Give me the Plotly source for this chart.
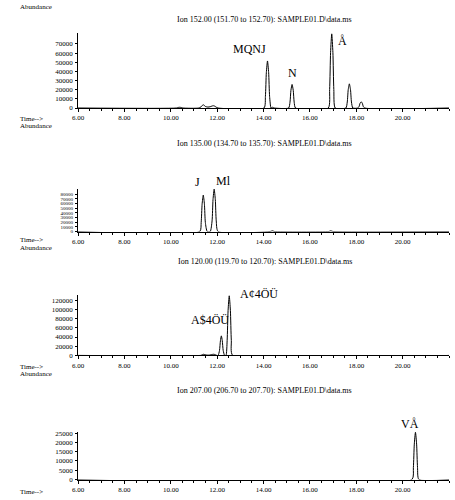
import plotly.graph_objects as go

# ---------------- data ----------------
x_ticks = [6, 8, 10, 12, 14, 16, 18, 20]
x_tick_labels = ["6.00", "8.00", "10.00", "12.00", "14.00", "16.00", "18.00", "20.00"]

titles = [
    "Ion 152.00 (151.70 to 152.70): SAMPLE01.D\\data.ms",
    "Ion 135.00 (134.70 to 135.70): SAMPLE01.D\\data.ms",
    "Ion 120.00 (119.70 to 120.70): SAMPLE01.D\\data.ms",
    "Ion 207.00 (206.70 to 207.70): SAMPLE01.D\\data.ms",
]

p1_time = [6.00, 10.24, 10.30, 10.38, 10.46, 10.52,
           11.22, 11.30, 11.36, 11.40, 11.44, 11.50, 11.60, 11.70, 11.78, 11.83, 11.88, 11.96, 12.04,
           14.02, 14.08, 14.12, 14.17, 14.22, 14.26, 14.32, 14.35, 14.38, 14.42, 14.47,
           15.08, 15.14, 15.18, 15.23, 15.28, 15.32, 15.38,
           16.79, 16.85, 16.89, 16.94, 16.99, 17.03, 17.09,
           17.55, 17.61, 17.65, 17.70, 17.75, 17.79, 17.85,
           18.06, 18.12, 18.16, 18.21, 18.26, 18.30, 18.36, 22.00]
p1_abund = [0, 0, 500, 800, 500, 0,
            0, 1200, 2900, 3500, 2900, 1600, 1000, 1400, 2200, 2500, 2200, 900, 0,
            0, 12800, 38500, 51400, 38500, 12800, 0, 500, 800, 500, 0,
            0, 6400, 19300, 25700, 19300, 6400, 0,
            0, 20200, 60700, 81000, 60700, 20200, 0,
            0, 6600, 19800, 26400, 19800, 6600, 0,
            0, 1700, 5100, 6800, 5100, 1700, 0, 0]

p2_time = [6.00, 11.25, 11.31, 11.35, 11.40, 11.45, 11.49, 11.57,
           11.70, 11.78, 11.82, 11.87, 11.92, 11.96, 12.04,
           14.28, 14.34, 14.38, 14.42, 14.48,
           16.80, 16.86, 16.90, 16.94, 17.00, 22.00]
p2_abund = [0, 0, 19500, 58500, 78000, 58500, 19500, 0,
            0, 22700, 68100, 90800, 68100, 22700, 0,
            0, 900, 1500, 900, 0,
            0, 900, 1500, 900, 0, 0]

p3_time = [6.00, 11.28, 11.36, 11.42, 11.48, 11.56, 11.66, 11.72, 11.80, 11.86, 11.92, 11.99,
           12.04, 12.10, 12.14, 12.18, 12.22, 12.26, 12.32,
           12.38, 12.43, 12.47, 12.52, 12.57, 12.61, 12.67, 22.00]
p3_abund = [0, 0, 1400, 2500, 1400, 600, 700, 1400, 2200, 2500, 1400, 0,
            0, 10600, 31900, 42500, 31900, 10600, 0,
            0, 32500, 97400, 129800, 97400, 32500, 0, 0]

p4_time = [6.00, 20.40, 20.46, 20.50, 20.55, 20.60, 20.64, 20.70, 22.00]
p4_abund = [0, 0, 6400, 19100, 25500, 19100, 6400, 0, 0]

y_ticks = [
    [0, 10000, 20000, 30000, 40000, 50000, 60000, 70000],
    [0, 10000, 20000, 30000, 40000, 50000, 60000, 70000, 80000],
    [0, 20000, 40000, 60000, 80000, 100000, 120000],
    [0, 5000, 10000, 15000, 20000, 25000],
]

peak_labels = [
    [("MQNJ", 14.17, 51400), ("N", 15.23, 25700), ("Å", 16.94, 81000)],
    [("J", 11.40, 78000), ("Ml", 11.87, 90800)],
    [("A$4ÖÜ", 12.18, 42500), ("A¢4ÖÜ", 12.52, 129800)],
    [("VÅ", 20.55, 25500)],
]

# ---------------- layout (pixel geometry) ----------------
W, H = 455, 500
FONT = "Liberation Serif"
x_left, x_right = 73, 449
panels_px = [(31.5, 107.3), (189, 232.3), (296.7, 357.7), (435, 483.3)]  # (top, bottom)
title_y = [18, 143, 263, 393]
time_y = [118, 241, 369, 496]
ytick_size = [7, 5, 7, 7]

series = [(p1_time, p1_abund), (p2_time, p2_abund), (p3_time, p3_abund), (p4_time, p4_abund)]
label_offsets = [
    [(-18, -12), (0, -11), (11, 7)],
    [(-6, -13), (9, -8)],
    [(-11, -16), (30, -2)],
    [(-5, -8)],
]

fig = go.Figure()
annotations = []

def py(y):
    return 1 - y / H

for i, (t, a) in enumerate(series):
    xa = "x" if i == 0 else f"x{i+1}"
    ya = "y" if i == 0 else f"y{i+1}"
    fig.add_trace(go.Scatter(x=t, y=a, mode="lines",
                             line=dict(color="black", width=1, shape="spline", smoothing=0.6),
                             xaxis=xa, yaxis=ya, showlegend=False, hoverinfo="skip"))
    top, bot = panels_px[i]
    ymax = max(a)
    xkey = "xaxis" if i == 0 else f"xaxis{i+1}"
    ykey = "yaxis" if i == 0 else f"yaxis{i+1}"
    fig.update_layout(**{
        xkey: dict(domain=[x_left / W, x_right / W], range=[6, 22], anchor=ya,
                   tickvals=x_ticks, ticktext=x_tick_labels, ticks="outside", ticklen=3,
                   tickcolor="black", tickwidth=1,
                   minor=dict(dtick=0.5, tick0=6, ticks="outside", ticklen=2, tickcolor="black"),
                   showline=True, linecolor="black", linewidth=1, showgrid=False, zeroline=False,
                   tickfont=dict(family=FONT, size=7, color="black"), ticklabelstandoff=0),
        ykey: dict(domain=[py(bot), py(top)], range=[0, ymax * 1.01], anchor=xa,
                   tickvals=y_ticks[i], ticktext=[str(v) for v in y_ticks[i]],
                   ticks="outside", ticklen=2, tickcolor="black", tickwidth=1,
                   showline=True, linecolor="black", linewidth=1, showgrid=False, zeroline=False,
                   tickfont=dict(family=FONT, size=ytick_size[i], color="black"), ticklabelstandoff=1),
    })
    annotations.append(dict(text=titles[i], x=262 / W, y=py(title_y[i]), xref="paper", yref="paper",
                            showarrow=False, xanchor="center", yanchor="middle",
                            font=dict(family=FONT, size=8, color="black")))
    annotations.append(dict(text="Time-->", x=12 / W, y=py(time_y[i]), xref="paper", yref="paper",
                            showarrow=False, xanchor="left", yanchor="middle",
                            font=dict(family=FONT, size=7, color="black")))
    if i < 3:
        annotations.append(dict(text="Abundance", x=12 / W, y=py(time_y[i] + 8), xref="paper", yref="paper",
                                showarrow=False, xanchor="left", yanchor="middle",
                                font=dict(family=FONT, size=7, color="black")))
    for (lab, px_, pa), (dx, dy) in zip(peak_labels[i], label_offsets[i]):
        annotations.append(dict(text=lab, x=px_, y=pa, xref=xa, yref=ya, showarrow=False,
                                xshift=dx, yshift=-dy, font=dict(family=FONT, size=12, color="black")))

annotations.append(dict(text="Abundance", x=12 / W, y=py(5), xref="paper", yref="paper",
                        showarrow=False, xanchor="left", yanchor="middle",
                        font=dict(family=FONT, size=7, color="black")))

fig.update_layout(width=W, height=H, margin=dict(l=0, r=0, t=0, b=0),
                  paper_bgcolor="white", plot_bgcolor="white", annotations=annotations)

fig.write_html("out.html")
